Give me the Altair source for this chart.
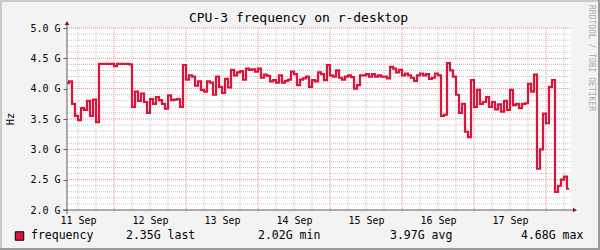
import altair as alt
import pandas as pd

# ---------------- data ----------------
# hours since 11 Sep 00:00
hours = [8.33] + list(range(9, 176)) + [175.7]
freq_ghz = [
    4.09,
    4.12, 3.75, 3.55, 3.48, 3.68, 3.65, 3.80, 3.55, 3.82, 3.45,   # 9-18
    4.41, 4.41, 4.41, 4.41, 4.41, 4.37, 4.41, 4.41, 4.41, 4.41,   # 19-28
    4.40, 3.70, 3.95, 3.80, 3.92, 3.78, 3.60, 3.83, 3.75, 3.86,   # 29-38
    3.81, 3.75, 3.67, 3.89, 3.81, 3.82, 3.83, 3.70, 4.39, 4.15,   # 39-48
    4.22, 4.20, 4.05, 4.12, 3.98, 3.95, 4.12, 4.10, 3.90, 4.20,   # 49-58
    4.03, 3.93, 4.16, 4.02, 4.31, 4.22, 4.27, 4.29, 4.15, 4.33,   # 59-68
    4.31, 4.32, 4.28, 4.33, 4.18, 4.23, 4.21, 4.12, 4.14, 4.10,   # 69-78
    4.22, 4.10, 4.13, 4.15, 4.28, 4.24, 4.06, 4.15, 4.17, 4.20,   # 79-88
    4.03, 4.14, 4.12, 4.27, 4.24, 4.14, 4.39, 4.22, 4.20, 4.30,   # 89-98
    4.18, 4.15, 4.20, 4.22, 4.19, 4.00, 4.06, 4.22, 4.22, 4.24,   # 99-108
    4.20, 4.24, 4.20, 4.22, 4.20, 4.20, 4.17, 4.36, 4.33, 4.27,   # 109-118
    4.31, 4.22, 4.25, 4.22, 4.18, 4.13, 4.22, 4.25, 4.22, 4.24,   # 119-128
    4.16, 4.18, 4.25, 4.22, 3.55, 3.57, 4.42, 4.30, 4.20, 3.90,   # 129-138
    3.60, 3.75, 3.29, 3.20, 4.14, 3.70, 3.98, 3.75, 3.78, 3.86,   # 139-148
    3.70, 3.78, 3.66, 3.74, 3.62, 3.80, 3.65, 3.98, 3.73, 3.75,   # 149-158
    3.68, 3.75, 3.76, 4.08, 3.95, 4.23, 2.68, 3.00, 3.59, 3.43,   # 159-168
    4.03, 4.14, 2.30, 2.40, 2.50, 2.55, 2.35,                     # 169-175
    2.35,
]
day_labels = ["11 Sep", "12 Sep", "13 Sep", "14 Sep", "15 Sep", "16 Sep", "17 Sep"]
label_hours = [12, 36, 60, 84, 108, 132, 156]
major_x = [24, 48, 72, 96, 120, 144, 168]
minor_x = [h for h in range(12, 177, 6) if h % 24 != 0]
major_y = [2.5, 3.0, 3.5, 4.0, 4.5, 5.0]
minor_y = [round(2.0 + 0.1 * i, 1) for i in range(1, 30) if i % 5 != 0]
y_ticks = [2.0, 2.5, 3.0, 3.5, 4.0, 4.5, 5.0]

title_text = "CPU-3 frequency on r-desktop"
y_title = "Hz"
watermark = "RRDTOOL / TOBI OETIKER"
series_name = "frequency"
legend_stats = ["2.35G last", "2.02G min", "3.97G avg", "4.68G max"]

# ---------------- chart ----------------
W, H = 504, 182
FONT = "DejaVu Sans Mono"
LINE_COLOR = "#DC143C"

df = pd.DataFrame({"h": hours, "v": freq_ghz})
xs = alt.Scale(domain=[8.33, 176.33], nice=False, zero=False)
ys = alt.Scale(domain=[2.0, 5.0], nice=False, zero=False)

x_axis = alt.Axis(values=label_hours, ticks=False, domain=False, grid=False,
                  labelExpr="%s[floor(datum.value/24)]" % str(day_labels),
                  labelFont=FONT, labelFontSize=10, labelColor="#000000",
                  labelPadding=5, labelBaseline="top")
y_axis = alt.Axis(values=y_ticks, ticks=True, tickSize=4, tickColor="#606060",
                  domain=False, grid=False,
                  labelExpr="format(datum.value, '.1f') + ' G'",
                  labelFont=FONT, labelFontSize=10, labelColor="#000000",
                  labelPadding=3, labelBaseline="middle")
X = alt.X("h:Q", scale=xs, title="", axis=x_axis)
Y = alt.Y("v:Q", scale=ys, title="", axis=y_axis)

vminor = alt.Chart(pd.DataFrame({"h": minor_x})).mark_rule(
    color="#C4C4C4", strokeDash=[1, 1], strokeWidth=1
).encode(x=X, y=alt.value(0), y2=alt.value(H + 2))

vmajor = alt.Chart(pd.DataFrame({"h": major_x})).mark_rule(
    color="#EE8A8A", strokeDash=[1, 1], strokeWidth=1
).encode(x=X, y=alt.value(0), y2=alt.value(H + 3))

hminor = alt.Chart(pd.DataFrame({"v": minor_y})).mark_rule(
    color="#C4C4C4", strokeDash=[1, 1], strokeWidth=1
).encode(y=Y, x=alt.value(0), x2=alt.value(W))

hmajor = alt.Chart(pd.DataFrame({"v": major_y})).mark_rule(
    color="#EE8A8A", strokeDash=[1, 1], strokeWidth=1
).encode(y=Y, x=alt.value(0), x2=alt.value(W))

line = alt.Chart(df).mark_line(
    color=LINE_COLOR, strokeWidth=2.2, interpolate="step-after"
).encode(x=X, y=Y)

AX = "#606060"
ARROW = "#7F1F1F"
one = alt.Data(values=[{"k": 1}])
yaxis_line = alt.Chart(one).mark_rule(color=AX, strokeWidth=1).encode(
    x=alt.value(0), y=alt.value(-4), y2=alt.value(H + 4))
xaxis_line = alt.Chart(one).mark_rule(color=AX, strokeWidth=1).encode(
    y=alt.value(H), x=alt.value(-4), x2=alt.value(W + 4))
arrow_up = alt.Chart(one).mark_point(shape="triangle-up", filled=True, color=ARROW,
                                     size=22, opacity=1).encode(
    x=alt.value(0), y=alt.value(-5))
arrow_right = alt.Chart(one).mark_point(shape="triangle-right", filled=True, color=ARROW,
                                        size=22, opacity=1).encode(
    x=alt.value(W + 4), y=alt.value(H))


def txt(t, x, y, **kw):
    return alt.Chart(alt.Data(values=[{"t": t}])).mark_text(font=FONT, **kw).encode(
        text="t:N", x=alt.value(x), y=alt.value(y))


L, T = 67, 28
title_l = txt(title_text, 298.5 - L, 22 - T, fontSize=13, align="center",
              baseline="alphabetic", color="#000000")
ytitle_l = txt(y_title, 11 - L, 119 - T, fontSize=10.5, align="center",
               baseline="middle", angle=270, color="#000000")
wm_l = txt(watermark, 591 - L, 5 - T, fontSize=8, align="left",
           baseline="middle", angle=90, color="#ABABAB")

legend_box = alt.Chart(one).mark_square(size=72, color=LINE_COLOR, stroke="#000000",
                                        strokeWidth=1, opacity=1).encode(
    x=alt.value(19.5 - L), y=alt.value(236 - T))
leg_name = txt(series_name, 31 - L, 236 - T, fontSize=11.5, align="left",
               baseline="middle", color="#000000")
stat_x = [126, 258, 390, 521]
leg_stats = [txt(s, sx - L, 236 - T, fontSize=11.5, align="left", baseline="middle",
                 color="#000000") for s, sx in zip(legend_stats, stat_x)]

# outer 3D frame
frame_top = alt.Chart(one).mark_rule(color="#CBCBCB", strokeWidth=2).encode(
    y=alt.value(1 - T), x=alt.value(-L), x2=alt.value(600 - L))
frame_left = alt.Chart(one).mark_rule(color="#CBCBCB", strokeWidth=2).encode(
    x=alt.value(1 - L), y=alt.value(-T), y2=alt.value(250 - T))
frame_bottom = alt.Chart(one).mark_rule(color="#999999", strokeWidth=2).encode(
    y=alt.value(249 - T), x=alt.value(-L), x2=alt.value(600 - L))
frame_right = alt.Chart(one).mark_rule(color="#999999", strokeWidth=2).encode(
    x=alt.value(599 - L), y=alt.value(-T), y2=alt.value(250 - T))

chart = alt.layer(
    vminor, hminor, vmajor, hmajor, line,
    yaxis_line, xaxis_line, arrow_up, arrow_right,
    title_l, ytitle_l, wm_l, legend_box, leg_name, *leg_stats,
    frame_top, frame_left, frame_bottom, frame_right,
).properties(
    width=W, height=H, autosize="none",
    padding={"left": L, "top": T, "right": 600 - L - W, "bottom": 250 - T - H},
).configure(background="#F3F3F3").configure_view(fill="white", strokeWidth=0)

chart.save("out.html", embed_options={"renderer": "svg", "actions": False})
